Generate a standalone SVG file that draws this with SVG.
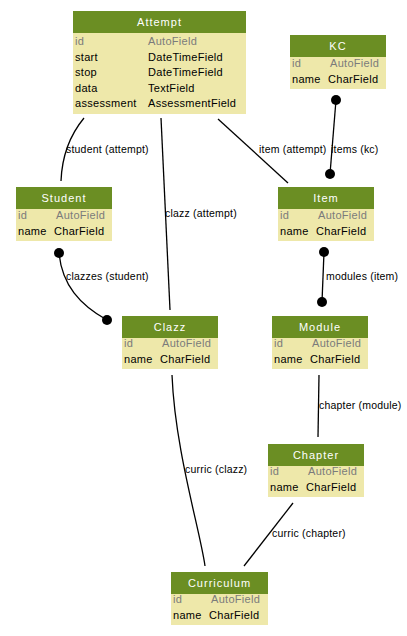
<svg xmlns="http://www.w3.org/2000/svg" width="407" height="636" viewBox="0 0 407 636">
<style>
.hd{fill:#6b8e23}
.bd{fill:#eee8aa}
text{font-family:"Liberation Sans",Arial,sans-serif;font-size:11px;fill:#000;letter-spacing:0.3px}
.ht{fill:#fff;text-anchor:middle;letter-spacing:1px}
.g{fill:#7b7b7b}
.l{font-size:10.5px;letter-spacing:0.2px}
.e{fill:none;stroke:#000;stroke-width:1.3}
.d{fill:#000}
</style>
<rect width="407" height="636" fill="#fff"/>
<g id="connectors">
<path class="e" d="M84,118 C70,135 62,155 61,181"/>
<text class="l" x="66" y="153">student (attempt)</text>
<path class="e" d="M161,118 L170,310"/>
<text class="l" x="165" y="217">clazz (attempt)</text>
<path class="e" d="M218,119 L288,183"/>
<text class="l" x="259" y="153">item (attempt)</text>
<path class="e" d="M336,100 L330,174"/>
<circle class="d" cx="336" cy="100" r="5"/>
<circle class="d" cx="330" cy="174" r="5"/>
<text class="l" x="331" y="153">items (kc)</text>
<path class="e" d="M59,253 C62,285 80,305 107,320"/>
<circle class="d" cx="59" cy="253" r="5"/>
<circle class="d" cx="107" cy="320" r="5"/>
<text class="l" x="66" y="280">clazzes (student)</text>
<path class="e" d="M324,252 L322,302"/>
<circle class="d" cx="324" cy="252" r="5"/>
<circle class="d" cx="322" cy="302" r="5"/>
<text class="l" x="326" y="280">modules (item)</text>
<path class="e" d="M319,375 L318,437"/>
<text class="l" x="319" y="409">chapter (module)</text>
<path class="e" d="M172,375 C175,450 200,530 205,566"/>
<text class="l" x="185" y="473">curric (clazz)</text>
<path class="e" d="M293,503 L244,566"/>
<text class="l" x="272" y="537">curric (chapter)</text>
</g>
<g id="Attempt">
<rect class="bd" x="73" y="11" width="173" height="103"/>
<rect class="hd" x="73" y="11" width="173" height="22"/>
<text class="ht" x="159.5" y="26">Attempt</text>
<text class="g" x="75" y="45">id</text><text class="g" x="148" y="45">AutoField</text>
<text x="75" y="61">start</text><text x="148" y="61">DateTimeField</text>
<text x="75" y="76">stop</text><text x="148" y="76">DateTimeField</text>
<text x="75" y="92">data</text><text x="148" y="92">TextField</text>
<text x="75" y="107">assessment</text><text x="148" y="107">AssessmentField</text>
</g>
<g id="KC">
<rect class="bd" x="290" y="35" width="96" height="54"/>
<rect class="hd" x="290" y="35" width="96" height="22"/>
<text class="ht" x="338" y="50">KC</text>
<text class="g" x="292" y="67">id</text><text class="g" x="330" y="67">AutoField</text>
<text x="292" y="83">name</text><text x="328" y="83">CharField</text>
</g>
<g id="Student">
<rect class="bd" x="16" y="187" width="96" height="54"/>
<rect class="hd" x="16" y="187" width="96" height="22"/>
<text class="ht" x="64" y="202">Student</text>
<text class="g" x="18" y="219">id</text><text class="g" x="56" y="219">AutoField</text>
<text x="18" y="235">name</text><text x="54" y="235">CharField</text>
</g>
<g id="Item">
<rect class="bd" x="278" y="187" width="96" height="54"/>
<rect class="hd" x="278" y="187" width="96" height="22"/>
<text class="ht" x="326" y="202">Item</text>
<text class="g" x="280" y="219">id</text><text class="g" x="318" y="219">AutoField</text>
<text x="280" y="235">name</text><text x="316" y="235">CharField</text>
</g>
<g id="Clazz">
<rect class="bd" x="122" y="316" width="96" height="53"/>
<rect class="hd" x="122" y="316" width="96" height="22"/>
<text class="ht" x="170" y="331">Clazz</text>
<text class="g" x="124" y="347">id</text><text class="g" x="162" y="347">AutoField</text>
<text x="124" y="363">name</text><text x="160" y="363">CharField</text>
</g>
<g id="Module">
<rect class="bd" x="272" y="316" width="96" height="53"/>
<rect class="hd" x="272" y="316" width="96" height="22"/>
<text class="ht" x="320" y="331">Module</text>
<text class="g" x="274" y="347">id</text><text class="g" x="312" y="347">AutoField</text>
<text x="274" y="363">name</text><text x="310" y="363">CharField</text>
</g>
<g id="Chapter">
<rect class="bd" x="268" y="444" width="96" height="53"/>
<rect class="hd" x="268" y="444" width="96" height="22"/>
<text class="ht" x="316" y="459">Chapter</text>
<text class="g" x="270" y="475">id</text><text class="g" x="308" y="475">AutoField</text>
<text x="270" y="491">name</text><text x="306" y="491">CharField</text>
</g>
<g id="Curriculum">
<rect class="bd" x="171" y="572" width="97" height="53"/>
<rect class="hd" x="171" y="572" width="97" height="22"/>
<text class="ht" x="219.5" y="587">Curriculum</text>
<text class="g" x="173" y="603">id</text><text class="g" x="211" y="603">AutoField</text>
<text x="173" y="619">name</text><text x="209" y="619">CharField</text>
</g>
</svg>
